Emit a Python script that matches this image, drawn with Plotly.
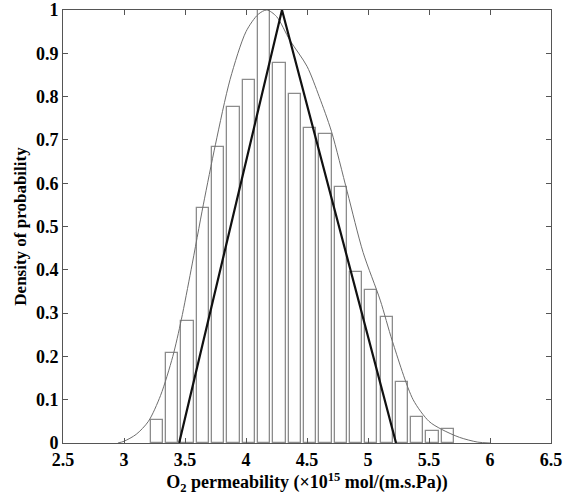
import plotly.graph_objects as go

# histogram (normalised so the tallest bin = 1)
bin_centers = [3.270, 3.396, 3.521, 3.647, 3.772, 3.898, 4.023, 4.149, 4.274, 4.400,
               4.525, 4.651, 4.776, 4.902, 5.027, 5.153, 5.278, 5.404, 5.529, 5.655]
bin_heights = [0.052, 0.207, 0.282, 0.542, 0.683, 0.777, 0.838, 1.0, 0.878, 0.807,
               0.728, 0.714, 0.592, 0.395, 0.353, 0.292, 0.142, 0.061, 0.028, 0.033]

# smoothed density curve
curve_x = [2.95, 3.0, 3.1, 3.2, 3.3, 3.4, 3.47, 3.55, 3.65, 3.75, 3.87, 4.0, 4.1, 4.17,
           4.25, 4.36, 4.5, 4.6, 4.7, 4.83, 4.96, 5.1, 5.2, 5.37, 5.5, 5.6, 5.75, 5.9, 6.0]
curve_y = [0.0, 0.004, 0.02, 0.05, 0.11, 0.2, 0.285, 0.4, 0.55, 0.69, 0.84, 0.95, 0.99, 1.0,
           0.985, 0.93, 0.87, 0.8, 0.72, 0.58, 0.44, 0.33, 0.235, 0.1, 0.05, 0.032, 0.013, 0.002, 0.0]

# triangular distribution
tri_x = [3.452, 4.295, 5.23]
tri_y = [0, 1, 0]

fig = go.Figure()
fig.add_trace(go.Bar(x=bin_centers, y=bin_heights, width=0.101,
                     marker=dict(color='white', line=dict(color='#8c8c8c', width=1.3)),
                     showlegend=False))
fig.add_trace(go.Scatter(x=curve_x, y=curve_y, mode='lines',
                         line=dict(color='#6e6e6e', width=1, shape='spline', smoothing=0.8),
                         showlegend=False))
fig.add_trace(go.Scatter(x=tri_x, y=tri_y, mode='lines',
                         line=dict(color='#111111', width=2.2),
                         showlegend=False))

axis_style = dict(showgrid=False, zeroline=False, showline=True, mirror='ticks',
                  linecolor='#555555', linewidth=1, ticks='inside', ticklen=5,
                  tickcolor='#555555', automargin=False,
                  tickfont=dict(size=18, weight='bold'))

fig.update_layout(
    width=581, height=497,
    margin=dict(l=63, r=30, t=10, b=54),
    plot_bgcolor='white', paper_bgcolor='white',
    font=dict(family='Liberation Serif', color='black', size=16, weight='bold'),
    bargap=0,
    xaxis=dict(range=[2.5, 6.5], dtick=0.5, tick0=2.5,
               title=dict(text='O<sub>2</sub> permeability (×10<sup>15</sup> mol/(m.s.Pa))',
                          font=dict(size=18, weight='bold'), standoff=2),
               **axis_style),
    yaxis=dict(range=[0, 1], dtick=0.1, tick0=0,
               title=dict(text='Density of probability',
                          font=dict(size=17, weight='bold'), standoff=4),
               **axis_style),
)

# drop the browser's default 8px body margin so the figure sits at the page corner
fig.write_html("out.html", config={'displayModeBar': False},
               post_script="document.body.style.margin='0';")
